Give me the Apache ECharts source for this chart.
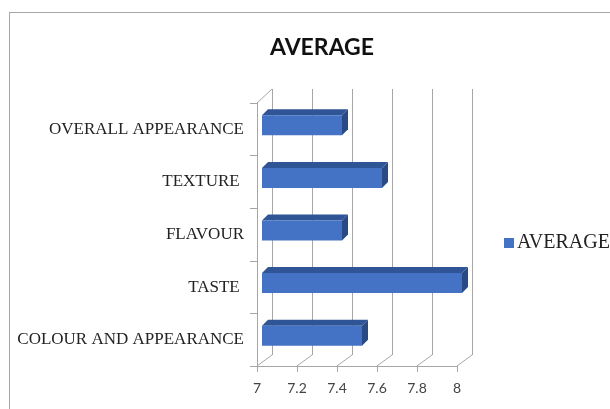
<!DOCTYPE html>
<html>
<head>
<meta charset="utf-8">
<script src="https://cdn.jsdelivr.net/npm/echarts@6/dist/echarts.min.js"></script>
<style>
  html, body { margin: 0; padding: 0; background: #fff; }
  #wrap { position: relative; width: 610px; height: 409px; overflow: hidden; }
  #frame { position: absolute; left: 9px; top: 12px; width: 700px; height: 500px;
           border-top: 1px solid #a6a6a6; border-left: 1px solid #a6a6a6; }
  #chart { position: absolute; left: 0; top: 0; width: 610px; height: 409px; }
</style>
</head>
<body>
<div id="wrap">
  <div id="frame"></div>
  <div id="chart"></div>
</div>
<script>
var categories = ['COLOUR AND APPEARANCE', 'TASTE ', 'FLAVOUR', 'TEXTURE ', 'OVERALL APPEARANCE'];
var averages = [7.5, 8.0, 7.4, 7.6, 7.4];
var xTicks = [7, 7.2, 7.4, 7.6, 7.8, 8];

var gridColor = '#a6a6a6';
// depth of the fake 3d box
var backDX = 15, backDY = -11;
var barDX = 5, barDY = -4, barDepthX = 6, barDepthY = -6;

var chart = echarts.init(document.getElementById('chart'));

function renderFrame(params, api) {
    var v = api.value(0);
    var cs = params.coordSys;
    var x = api.coord([v, 0])[0];
    var yb = cs.y + cs.height;
    var children = [{
        type: 'line',
        shape: { x1: x, y1: yb, x2: x + backDX, y2: yb + backDY },
        style: { stroke: gridColor, lineWidth: 1 }
    }];
    if (params.dataIndex === 0) {
        children.push({
            type: 'line',
            shape: { x1: x, y1: cs.y, x2: x + backDX, y2: cs.y - 14 },
            style: { stroke: gridColor, lineWidth: 1 }
        });
    }
    return { type: 'group', children: children };
}

function renderBar(params, api) {
    var i = api.value(0);
    var val = api.value(1);
    var start = api.coord([xTicks[0], i]);
    var end = api.coord([val, i]);
    var h = api.size([0, 1])[1] * 0.38;
    var x0 = start[0] + barDX;
    var x1 = end[0] + barDX;
    var yT = start[1] + barDY - h / 2;
    var yB = yT + h;
    return {
        type: 'group',
        children: [{
            type: 'polygon',
            shape: { points: [[x0, yT], [x0 + barDepthX, yT + barDepthY], [x1 + barDepthX, yT + barDepthY], [x1, yT]] },
            style: { fill: '#2f5597' }
        }, {
            type: 'polygon',
            shape: { points: [[x1, yT], [x1 + barDepthX, yT + barDepthY], [x1 + barDepthX, yB + barDepthY], [x1, yB]] },
            style: { fill: '#2a4a85' }
        }, {
            type: 'rect',
            shape: { x: x0, y: yT, width: x1 - x0, height: h },
            style: { fill: '#4472c4' }
        }]
    };
}

var option = {
    animation: false,
    title: {
        text: 'AVERAGE',
        left: 265,
        top: 31,
        textStyle: { fontFamily: 'Lato', fontWeight: 'bold', fontSize: 23, color: '#111' }
    },
    legend: {
        data: ['AVERAGE'],
        left: 499,
        top: 228,
        itemWidth: 10,
        itemHeight: 10,
        itemGap: 4,
        icon: 'rect',
        textStyle: { fontFamily: 'Liberation Serif', fontSize: 20, color: '#222', padding: [0, 0, 0, -2] }
    },
    grid: [
        { left: 257, right: 153, top: 103, bottom: 43 },
        { left: 272, right: 138, top: 89, bottom: 54 }
    ],
    xAxis: [{
        gridIndex: 0,
        type: 'value',
        min: 7, max: 8, interval: 0.2,
        axisLine: { show: true, lineStyle: { color: gridColor } },
        axisTick: { show: true, length: 6, lineStyle: { color: gridColor } },
        splitLine: { show: false },
        axisLabel: { margin: 15, fontFamily: 'Lato', fontSize: 14, color: '#444' }
    }, {
        gridIndex: 1,
        type: 'value',
        min: 7, max: 8, interval: 0.2,
        axisLine: { show: false },
        axisTick: { show: false },
        axisLabel: { show: false },
        splitLine: { show: true, lineStyle: { color: gridColor } }
    }],
    yAxis: [{
        gridIndex: 0,
        type: 'category',
        data: categories,
        axisLine: { show: true, lineStyle: { color: gridColor } },
        axisTick: { show: true, length: 7, lineStyle: { color: gridColor } },
        axisLabel: { margin: 13, fontFamily: 'Liberation Serif', fontSize: 17, color: '#222' }
    }, {
        gridIndex: 1,
        type: 'category',
        data: categories,
        show: false
    }],
    series: [{
        name: 'frame',
        type: 'custom',
        xAxisIndex: 0,
        yAxisIndex: 0,
        silent: true,
        renderItem: renderFrame,
        data: xTicks.map(function (t) { return [t]; }),
        z: 1
    }, {
        name: 'AVERAGE',
        type: 'custom',
        xAxisIndex: 0,
        yAxisIndex: 0,
        renderItem: renderBar,
        itemStyle: { color: '#4472c4' },
        encode: { x: 1, y: 0 },
        data: averages.map(function (v, i) { return [i, v]; }),
        z: 3
    }]
};

chart.setOption(option);
</script>
</body>
</html>
